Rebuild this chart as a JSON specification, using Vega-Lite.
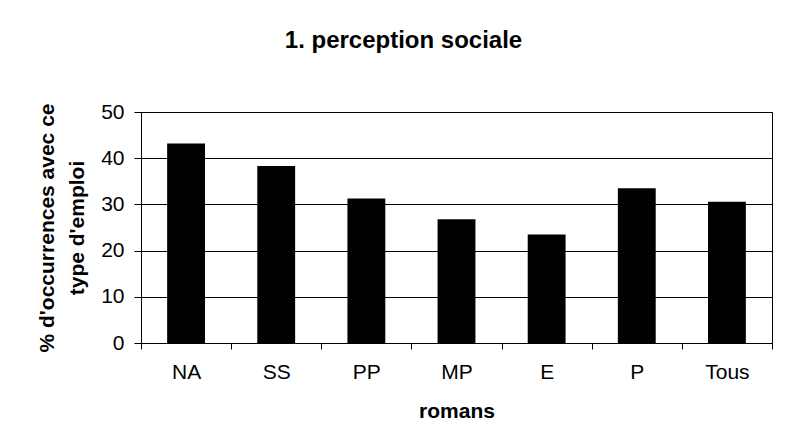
{
  "$schema": "https://vega.github.io/schema/vega-lite/v6.json",
  "width": 631,
  "height": 231,
  "autosize": "none",
  "padding": {"left": 141, "top": 112, "right": 14, "bottom": 102},
  "background": "white",
  "title": {
    "text": "1. perception sociale",
    "font": "Liberation Sans",
    "fontSize": 24,
    "fontWeight": "bold",
    "color": "black",
    "anchor": "middle",
    "dx": -53,
    "offset": 48
  },
  "config": {
    "view": {"stroke": "black", "strokeWidth": 1},
    "font": "Liberation Sans",
    "axis": {
      "labelFont": "Liberation Sans",
      "titleFont": "Liberation Sans",
      "labelColor": "black",
      "titleColor": "black",
      "domainColor": "black",
      "tickColor": "black",
      "gridColor": "black",
      "gridOpacity": 1,
      "domainWidth": 1,
      "tickWidth": 1,
      "gridWidth": 1
    }
  },
  "data": {
    "values": [
      {"roman": "NA", "pct": 43.2},
      {"roman": "SS", "pct": 38.3},
      {"roman": "PP", "pct": 31.3},
      {"roman": "MP", "pct": 26.8},
      {"roman": "E", "pct": 23.5},
      {"roman": "P", "pct": 33.5},
      {"roman": "Tous", "pct": 30.6}
    ]
  },
  "mark": {"type": "bar", "color": "black", "width": {"band": 0.42}},
  "encoding": {
    "x": {
      "field": "roman",
      "type": "nominal",
      "sort": null,
      "scale": {"paddingInner": 0, "paddingOuter": 0},
      "axis": {
        "title": "romans",
        "titleFontSize": 21,
        "titleFontWeight": "bold",
        "titlePadding": 18,
        "labelFontSize": 21,
        "labelFontWeight": "normal",
        "labelAngle": 0,
        "labelPadding": 12,
        "tickSize": 6,
        "tickBand": "extent",
        "grid": false
      }
    },
    "y": {
      "field": "pct",
      "type": "quantitative",
      "scale": {"domain": [0, 50], "nice": false},
      "axis": {
        "title": ["% d'occurrences avec ce", "type d'emploi"],
        "titleFontSize": 21,
        "titleFontWeight": "bold",
        "titleLineHeight": 30,
        "titlePadding": 13,
        "labelFontSize": 21,
        "labelPadding": 10,
        "tickSize": 7,
        "values": [0, 10, 20, 30, 40, 50],
        "grid": true
      }
    }
  }
}
